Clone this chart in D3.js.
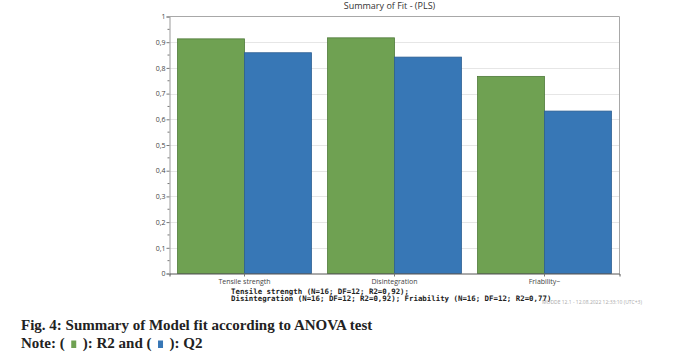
<!DOCTYPE html>
<html>
<head>
<meta charset="utf-8">
<script src="https://cdn.jsdelivr.net/npm/d3@7"></script>
<style>
	body { margin: 0; background: #fff; }
	svg { display: block; }
	.tickLabel { font-family: "Open Sans", sans-serif; font-size: 7px; fill: #444; }
	.note { font-family: "DejaVu Sans Mono", monospace; font-size: 7.4px; fill: #222; font-weight: bold; }
	.caption { font-family: "Liberation Serif", serif; font-size: 15px; font-weight: bold; fill: #222; }
</style>
</head>
<body>
<script>
(function(){

	//chart data
	var categories = ["Tensile strength", "Disintegration", "Friability~"];
	var seriesNames = ["R2", "Q2"];
	var r2Values = [0.913, 0.917, 0.767];
	var q2Values = [0.859, 0.842, 0.632];
	var yTickValues = [0, 0.1, 0.2, 0.3, 0.4, 0.5, 0.6, 0.7, 0.8, 0.9, 1];
	var noteLines = [
		"Tensile strength (N=16; DF=12; R2=0,92);",
		"Disintegration (N=16; DF=12; R2=0,92); Friability (N=16; DF=12; R2=0,77)"
	];

	var colors = { R2: "#6fa152", Q2: "#3777b6" };
	var strokes = { R2: "#4f7a3a", Q2: "#2d5f92" };

	var width = 683, height = 352;
	var plot = { left: 169.5, right: 619.5, top: 16.5, bottom: 273.5 };

	var svg = d3.select("body").append("svg")
		.attr("width", width)
		.attr("height", height);

	//scales
	var x0 = d3.scaleBand()
		.domain(categories)
		.range([plot.left, plot.right]);

	var x1 = d3.scaleBand()
		.domain(seriesNames)
		.range([0, x0.bandwidth()])
		.paddingOuter(0.12);

	var y = d3.scaleLinear()
		.domain([0, 1])
		.range([plot.bottom, plot.top]);

	//gridlines
	svg.append("g")
		.selectAll("line")
		.data(yTickValues.slice(1, -1))
		.enter()
		.append("line")
		.attr("x1", plot.left)
		.attr("x2", plot.right)
		.attr("y1", function(d){ return Math.round(y(d)) + 0.5; })
		.attr("y2", function(d){ return Math.round(y(d)) + 0.5; })
		.attr("stroke", "#e6e6e6");

	//plot frame (top and right)
	svg.append("path")
		.attr("d", "M" + plot.left + "," + plot.top + "H" + plot.right + "V" + plot.bottom)
		.attr("fill", "none")
		.attr("stroke", "#a8a8a8");

	//bars
	var rows = categories.map(function(c, i){
		return { cat: c, values: [ { key: "R2", v: r2Values[i] }, { key: "Q2", v: q2Values[i] } ] };
	});

	var groups = svg.selectAll(".group")
		.data(rows)
		.enter()
		.append("g")
		.attr("class", "group")
		.attr("transform", function(d){ return "translate(" + x0(d.cat) + ",0)"; });

	groups.selectAll("rect")
		.data(function(d){ return d.values; })
		.enter()
		.append("rect")
		.attr("x", function(d){ return x1(d.key); })
		.attr("width", x1.bandwidth())
		.attr("y", function(d){ return y(d.v); })
		.attr("height", function(d){ return y(0) - y(d.v); })
		.attr("fill", function(d){ return colors[d.key]; })
		.attr("stroke", function(d){ return strokes[d.key]; })
		.attr("stroke-width", 0.8);

	//y axis
	var yAxis = d3.axisLeft(y)
		.tickValues(yTickValues)
		.tickSize(3)
		.tickFormat(function(d){ return d3.format("~g")(d).replace(".", ","); });

	var yg = svg.append("g")
		.attr("transform", "translate(" + plot.left + ",0)")
		.call(yAxis);
	yg.select(".domain").attr("stroke", "#9a9a9a");
	yg.selectAll(".tick line").attr("stroke", "#777");
	yg.selectAll(".tick text").attr("class", "tickLabel").attr("x", -4);

	//minor ticks
	svg.append("g")
		.selectAll("line")
		.data(d3.range(0.05, 1, 0.1))
		.enter()
		.append("line")
		.attr("x1", plot.left - 2)
		.attr("x2", plot.left)
		.attr("y1", function(d){ return y(d); })
		.attr("y2", function(d){ return y(d); })
		.attr("stroke", "#777");

	//x axis
	var xAxis = d3.axisBottom(x0).tickSize(3).tickPadding(3);
	var xg = svg.append("g")
		.attr("transform", "translate(0," + plot.bottom + ")")
		.call(xAxis);
	xg.select(".domain").attr("stroke", "#555");
	xg.selectAll(".tick line").attr("stroke", "#777");
	xg.selectAll(".tick text").attr("class", "tickLabel");

	//title
	svg.append("text")
		.attr("x", 389.5)
		.attr("y", 9)
		.attr("text-anchor", "middle")
		.style("font-family", "'Open Sans', sans-serif")
		.style("font-size", "9px")
		.style("fill", "#333")
		.text("Summary of Fit - (PLS)");

	//model notes
	svg.selectAll(".note")
		.data(noteLines)
		.enter()
		.append("text")
		.attr("class", "note")
		.attr("x", 231)
		.attr("y", function(d, i){ return 293.5 + i * 7.8; })
		.text(function(d){ return d; });

	//watermark
	svg.append("text")
		.attr("x", 542)
		.attr("y", 304)
		.style("font-family", "'Open Sans', sans-serif")
		.style("font-size", "5px")
		.style("fill", "#aaa")
		.text("MODDE 12.1 - 12.08.2022 12:33:10 (UTC+3)");

	//caption
	svg.append("text")
		.attr("class", "caption")
		.attr("x", 21)
		.attr("y", 330)
		.text("Fig. 4: Summary of Model fit according to ANOVA test");

	var note = svg.append("text")
		.attr("class", "caption")
		.attr("x", 21)
		.attr("y", 347.5);
	note.append("tspan").text("Note: (");
	note.append("tspan").attr("class", "sw0").text("\u2002\u2002\u2009");
	note.append("tspan").text("): R2 and (");
	note.append("tspan").attr("class", "sw1").text("\u2002\u2002\u2009");
	note.append("tspan").text("): Q2");

	//legend swatches placed over the spaces in the note
	seriesNames.forEach(function(s, i){
		var box = note.select(".sw" + i).node();
		var start = box.getStartPositionOfChar(0).x;
		var end = box.getEndPositionOfChar(box.getNumberOfChars() - 1).x;
		var mid = (start + end) / 2;
		svg.append("rect")
			.attr("x", mid - 2.5)
			.attr("y", 340.5)
			.attr("width", 5)
			.attr("height", 7.5)
			.attr("fill", colors[s]);
	});

})();
</script>
</body>
</html>
